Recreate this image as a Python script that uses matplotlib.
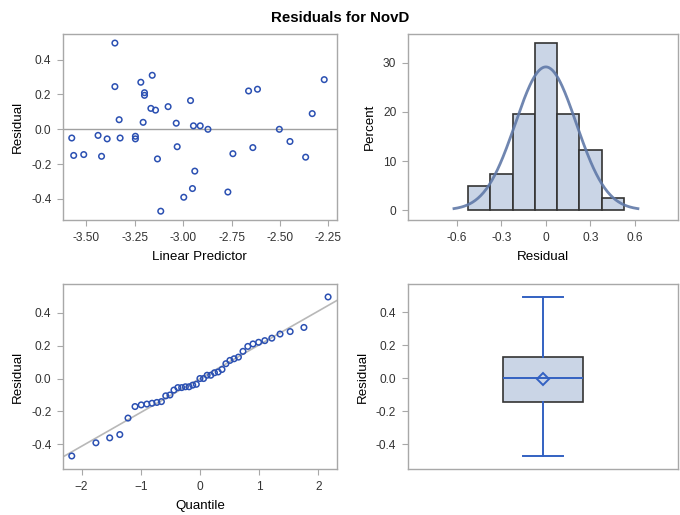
"""Residual diagnostics panel for NovD (fit plot, histogram, Q-Q, box)."""

from statistics import NormalDist

import numpy as np
import matplotlib.pyplot as plt

# linear predictor and residual for each observation
linpred = [-3.353, -3.353, -3.160, -3.219, -3.200, -3.200, -2.662, -2.616,
           -2.271, -2.962, -2.333, -3.167, -3.143, -3.078, -3.331, -3.207,
           -3.036, -2.947, -2.912, -2.872, -2.503, -3.576, -3.440, -3.393,
           -3.326, -3.247, -3.247, -3.031, -2.640, -2.448, -3.566, -3.514,
           -3.422, -3.133, -2.743, -2.367, -2.940, -2.952, -2.997, -2.769,
           -3.116]
resid = [0.495, 0.245, 0.31, 0.27, 0.21, 0.195, 0.22, 0.23,
         0.285, 0.165, 0.09, 0.12, 0.11, 0.13, 0.055, 0.04,
         0.035, 0.02, 0.02, 0.0, 0.0, -0.05, -0.035, -0.055,
         -0.05, -0.04, -0.055, -0.10, -0.105, -0.07, -0.15, -0.145,
         -0.155, -0.17, -0.14, -0.16, -0.24, -0.34, -0.39, -0.36,
         -0.47]

hist_edges = [-0.525, -0.375, -0.225, -0.075, 0.075, 0.225, 0.375, 0.525]

MARK = "#2B50B2"
FILL = "#CAD5E6"
LINE = "#3361C2"
CURVE = "#6079A8"
FRAME = "#A8A8A8"


def style_axes(ax):
    for s in ax.spines.values():
        s.set_color(FRAME)
        s.set_linewidth(1.0)
    ax.tick_params(colors="#333333", labelsize=8.6, length=4, color=FRAME,
                   pad=4.5)
    ax.xaxis.label.set_size(9.6)
    ax.yaxis.label.set_size(9.6)


def main() -> None:
    plt.rcParams["font.family"] = ["Liberation Sans", "DejaVu Sans"]
    r = np.array(resid)
    n = len(r)
    mu = r.mean()
    sd = r.std(ddof=1)

    fig = plt.figure(figsize=(6.8, 5.15), dpi=100)
    fig.text(0.5, 0.965, "Residuals for NovD", ha="center", va="center",
             fontsize=10.8, fontweight="bold")

    # residual vs linear predictor
    ax1 = fig.add_axes([0.093, 0.573, 0.402, 0.361])
    ax1.axhline(0, color="#A0A0A0", lw=1.0, zorder=1)
    ax1.scatter(linpred, resid, s=16, facecolors="none", edgecolors=MARK,
                linewidths=1.1, zorder=2)
    ax1.set_xlim(-3.62, -2.207)
    ax1.set_ylim(-0.52, 0.547)
    ax1.set_xticks([-3.5, -3.25, -3.0, -2.75, -2.5, -2.25])
    ax1.set_xticklabels([f"{v:.2f}" for v in ax1.get_xticks()])
    ax1.set_yticks([-0.4, -0.2, 0.0, 0.2, 0.4])
    ax1.set_yticklabels([f"{v:.1f}" for v in ax1.get_yticks()])
    ax1.set_xlabel("Linear Predictor", labelpad=5)
    ax1.set_ylabel("Residual", labelpad=5)
    style_axes(ax1)

    # histogram with normal curve
    ax2 = fig.add_axes([0.600, 0.573, 0.397, 0.361])
    ax2.hist(r, bins=hist_edges, weights=np.full(n, 100.0 / n),
             facecolor=FILL, edgecolor="#333333", linewidth=1.2, zorder=2)
    xs = np.linspace(-0.62, 0.62, 200)
    width = hist_edges[1] - hist_edges[0]
    dens = 100 * width * np.exp(-0.5 * ((xs - mu) / sd) ** 2) / (sd * np.sqrt(2 * np.pi))
    ax2.plot(xs, dens, color=CURVE, lw=2.0, alpha=0.9, zorder=3)
    ax2.set_xlim(-0.93, 0.89)
    ax2.set_ylim(-2.0, 35.9)
    ax2.set_xticks([-0.6, -0.3, 0, 0.3, 0.6])
    ax2.set_xticklabels(["-0.6", "-0.3", "0", "0.3", "0.6"])
    ax2.set_yticks([0, 10, 20, 30])
    ax2.set_xlabel("Residual", labelpad=5)
    ax2.set_ylabel("Percent", labelpad=5)
    style_axes(ax2)

    # normal quantile plot
    ax3 = fig.add_axes([0.093, 0.089, 0.402, 0.359])
    srt = np.sort(r)
    nd = NormalDist()
    q = np.array([nd.inv_cdf((i - 0.375) / (n + 0.25)) for i in range(1, n + 1)])
    xl = np.array([-2.31, 2.31])
    ax3.plot(xl, mu + sd * xl, color="#B8B8B8", lw=1.2, zorder=1)
    ax3.scatter(q, srt, s=16, facecolors="none", edgecolors=MARK,
                linewidths=1.1, zorder=2)
    ax3.set_xlim(-2.31, 2.31)
    ax3.set_ylim(-0.55, 0.572)
    ax3.set_xticks([-2, -1, 0, 1, 2])
    ax3.set_yticks([-0.4, -0.2, 0.0, 0.2, 0.4])
    ax3.set_yticklabels([f"{v:.1f}" for v in ax3.get_yticks()])
    ax3.set_xlabel("Quantile", labelpad=5)
    ax3.set_ylabel("Residual", labelpad=5)
    style_axes(ax3)

    # box plot
    ax4 = fig.add_axes([0.600, 0.089, 0.397, 0.359])
    ax4.boxplot([r], positions=[0], widths=0.296, whis=(0, 100),
                patch_artist=True, showmeans=True,
                boxprops=dict(facecolor=FILL, edgecolor="#333333", linewidth=1.2),
                medianprops=dict(color=LINE, linewidth=1.4),
                whiskerprops=dict(color=LINE, linewidth=1.4),
                capprops=dict(color=LINE, linewidth=1.4),
                capwidths=0.148,
                meanprops=dict(marker="D", markerfacecolor="none",
                               markeredgecolor=LINE, markersize=6,
                               markeredgewidth=1.4))
    ax4.set_xlim(-0.5, 0.5)
    ax4.set_ylim(-0.55, 0.571)
    ax4.set_xticks([])
    ax4.set_yticks([-0.4, -0.2, 0.0, 0.2, 0.4])
    ax4.set_yticklabels([f"{v:.1f}" for v in ax4.get_yticks()])
    ax4.set_ylabel("Residual", labelpad=5)
    style_axes(ax4)

    fig.savefig("out.png", dpi=100)


if __name__ == "__main__":
    main()
